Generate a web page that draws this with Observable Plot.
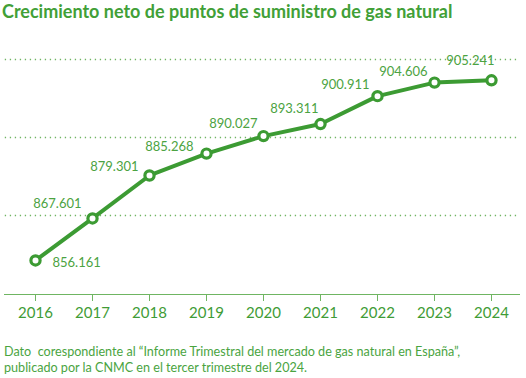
<!DOCTYPE html>
<html>
<head>
<meta charset="utf-8">
<script src="https://cdn.jsdelivr.net/npm/d3@7"></script>
<script src="https://cdn.jsdelivr.net/npm/@observablehq/plot@0.6"></script>
<style>
  body { margin: 0; background: #fff; }
  #wrap { width: 526px; height: 378px; overflow: hidden; font-family: Lato, "Open Sans", sans-serif; color: #46a03c; }
  #title { font-weight: 700; font-size: 18px; line-height: 22px; height: 26px; padding-left: 2px; color: #41a037; white-space: nowrap; }
  #chart svg { display: block; }
  #caption { font-size: 12.6px; line-height: 16px; padding-left: 4px; margin-top: 12px; color: #4aa43f; white-space: nowrap; }
</style>
</head>
<body>
<div id="wrap">
  <div id="title">Crecimiento neto de puntos de suministro de gas natural</div>
  <div id="chart"></div>
  <div id="caption">Dato&nbsp; corespondiente al “Informe Trimestral del mercado de gas natural en España”,<br>publicado por la CNMC en el tercer trimestre del 2024.</div>
</div>
<script>
// Data
const years = [2016, 2017, 2018, 2019, 2020, 2021, 2022, 2023, 2024];
const puntos = [856161, 867601, 879301, 885268, 890027, 893311, 900911, 904606, 905241];
const etiquetas = ["856.161", "867.601", "879.301", "885.268", "890.027", "893.311", "900.911", "904.606", "905.241"];
const gridValues = [868400, 889650, 910900];
const axisBase = 846880;

// Label placement (layout only)
const labelLayout = [
  {anchor: "start", dx: 17, dy: 2},
  {anchor: "end", dx: -11, dy: -15},
  {anchor: "end", dx: -11, dy: -9},
  {anchor: "end", dx: -13, dy: -7},
  {anchor: "end", dx: -6, dy: -12},
  {anchor: "end", dx: -2, dy: -15},
  {anchor: "end", dx: -8, dy: -11},
  {anchor: "end", dx: -7, dy: -11},
  {anchor: "end", dx: 3, dy: -19}
];

const data = years.map((year, i) => ({year, value: puntos[i], label: etiquetas[i]}));

const T = 26;
const green = "#3c9b33";

const labelMarks = data.map((d, i) => Plot.text([d], {
  x: "year", y: "value", text: "label",
  textAnchor: labelLayout[i].anchor, dx: labelLayout[i].dx, dy: labelLayout[i].dy,
  fontSize: 13, fill: "#4ca342"
}));

const chart = Plot.plot({
  width: 526,
  height: 306,
  marginLeft: 4,
  marginRight: 6,
  marginTop: 0,
  marginBottom: 332 - 294,
  style: {fontFamily: "Lato, 'Open Sans', sans-serif", color: "#46a03c", background: "transparent", overflow: "visible"},
  x: {type: "linear", domain: [2016, 2024], range: [35, 491]},
  y: {domain: [axisBase, 910900], range: [294 - T, 59 - T], axis: null},
  marks: [
    Plot.ruleY(gridValues, {stroke: "#6fb562", strokeWidth: 1.3, strokeDasharray: "1.3 3.7", x1: 2015.47, x2: 2024.47}),
    Plot.ruleY([axisBase], {stroke: "#6fb562", strokeWidth: 1.2}),
    Plot.axisX({ticks: years, tickFormat: d => String(d), tickSize: 7, tickPadding: 6, fontSize: 15, stroke: "#6fb562", fill: "#3f9c36", label: null}),
    Plot.line(data, {x: "year", y: "value", stroke: green, strokeWidth: 4, curve: "linear"}),
    Plot.dot(data, {x: "year", y: "value", r: 4.6, fill: "#fff", stroke: green, strokeWidth: 3.2}),
    ...labelMarks
  ]
});
document.getElementById("chart").appendChild(chart);
</script>
</body>
</html>
